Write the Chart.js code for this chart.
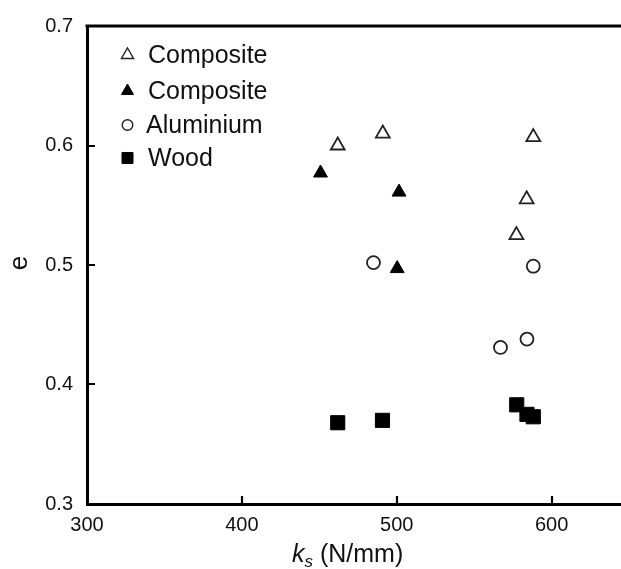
<!DOCTYPE html>
<html>
<head>
<meta charset="utf-8">
<script src="https://cdn.jsdelivr.net/npm/chart.js@4/dist/chart.umd.min.js"></script>
<style>
  html, body { margin: 0; padding: 0; background: #fff; overflow: hidden; width: 621px; height: 569px; }
  canvas { display: block; }
</style>
</head>
<body>
<canvas id="c" width="640" height="569"></canvas>
<script>
// ---- data ----
const seriesLabels = ['Composite', 'Composite', 'Aluminium', 'Wood'];
const compositeOpenX = [461.9, 491.0, 588.2, 583.9, 577.3];
const compositeOpenY = [0.600, 0.610, 0.607, 0.555, 0.525];
const compositeFilledX = [450.8, 501.5, 500.3];
const compositeFilledY = [0.577, 0.561, 0.497];
const aluminiumX = [485.0, 588.2, 567.0, 584.1];
const aluminiumY = [0.502, 0.499, 0.431, 0.438];
const woodX = [461.9, 490.8, 577.5, 584.1, 588.2];
const woodY = [0.368, 0.370, 0.383, 0.375, 0.373];
const xTickValues = [300, 400, 500, 600];
const yTickValues = [0.3, 0.4, 0.5, 0.6, 0.7];
const xTitleMain = 'k';
const xTitleSub = 's';
const xTitleRest = ' (N/mm)';
const yTitle = 'e';

const FONT = '"Liberation Sans", Arial, Helvetica, sans-serif';
const INK = '#111';

function pts(xs, ys) { return xs.map((x, i) => ({ x: x, y: ys[i] })); }

const styles = [
  { pointStyle: 'triangle', pointRadius: 8, backgroundColor: '#fff', borderColor: '#222', borderWidth: 1.8 },
  { pointStyle: 'triangle', pointRadius: 8, backgroundColor: '#000', borderColor: '#000', borderWidth: 1 },
  { pointStyle: 'circle', pointRadius: 6.5, backgroundColor: '#fff', borderColor: '#222', borderWidth: 1.8 },
  { pointStyle: 'rect', pointRadius: 10, backgroundColor: '#000', borderColor: '#000', borderWidth: 1 }
];
const seriesData = [
  pts(compositeOpenX, compositeOpenY),
  pts(compositeFilledX, compositeFilledY),
  pts(aluminiumX, aluminiumY),
  pts(woodX, woodY)
];

const datasets = seriesData.map((d, i) => Object.assign({
  label: seriesLabels[i],
  data: d,
  showLine: false,
  pointHoverRadius: styles[i].pointRadius,
  pointBorderWidth: styles[i].borderWidth
}, styles[i]));

const decorPlugin = {
  id: 'decor',
  afterDraw(chart) {
    const ctx = chart.ctx;
    const a = chart.chartArea;
    const xs = chart.scales.x, ys = chart.scales.y;
    ctx.save();
    // top frame line
    ctx.strokeStyle = '#000';
    ctx.lineWidth = 3;
    ctx.beginPath();
    ctx.moveTo(a.left - 1.5, a.top);
    ctx.lineTo(a.right, a.top);
    ctx.stroke();
    // inner ticks
    ctx.lineWidth = 2.2;
    ctx.beginPath();
    xTickValues.forEach(v => {
      const px = Math.round(xs.getPixelForValue(v));
      if (px <= a.left + 2) return;
      ctx.moveTo(px, a.bottom);
      ctx.lineTo(px, a.bottom - 8);
    });
    yTickValues.forEach(v => {
      const py = Math.round(ys.getPixelForValue(v));
      if (py <= a.top + 2 || py >= a.bottom - 2) return;
      ctx.moveTo(a.left, py);
      ctx.lineTo(a.left + 8, py);
    });
    ctx.stroke();

    // legend
    const legX = 127.5, textX = 148, rows = [55, 91, 125, 158];
    const legStyles = [
      { pointStyle: 'triangle', radius: 7, fill: '#fff', stroke: '#222', bw: 1.4 },
      { pointStyle: 'triangle', radius: 7, fill: '#000', stroke: '#000', bw: 1 },
      { pointStyle: 'circle', radius: 5.3, fill: '#fff', stroke: '#222', bw: 1.4 },
      { pointStyle: 'rect', radius: 7.8, fill: '#000', stroke: '#000', bw: 1 }
    ];
    ctx.font = '25px ' + FONT;
    ctx.textBaseline = 'middle';
    ctx.textAlign = 'left';
    chart.data.datasets.forEach((ds, i) => {
      const s = legStyles[i];
      ctx.fillStyle = s.fill;
      ctx.strokeStyle = s.stroke;
      ctx.lineWidth = s.bw;
      Chart.helpers.drawPoint(ctx, { pointStyle: s.pointStyle, radius: s.radius, borderWidth: s.bw, rotation: 0 }, legX, rows[i]);
      ctx.fillStyle = INK;
      ctx.fillText(ds.label, (i === 2 ? textX - 2 : textX), rows[i] + 1);
    });

    // x title
    const baseY = 562;
    ctx.textBaseline = 'alphabetic';
    ctx.fillStyle = INK;
    let x0 = 292;
    ctx.font = 'italic 25px ' + FONT;
    ctx.fillText(xTitleMain, x0, baseY);
    x0 += ctx.measureText(xTitleMain).width;
    ctx.font = 'italic 17px ' + FONT;
    ctx.fillText(xTitleSub, x0, baseY + 5);
    x0 += ctx.measureText(xTitleSub).width;
    ctx.font = '25px ' + FONT;
    ctx.fillText(xTitleRest, x0, baseY);

    // y title (rotated)
    ctx.translate(20, 263);
    ctx.rotate(-Math.PI / 2);
    ctx.textAlign = 'center';
    ctx.textBaseline = 'middle';
    ctx.font = '26px ' + FONT;
    ctx.fillText(yTitle, 0, 0);
    ctx.restore();
  }
};

new Chart(document.getElementById('c'), {
  type: 'scatter',
  data: { datasets: datasets },
  options: {
    responsive: false,
    animation: false,
    events: [],
    layout: { padding: { left: 0, top: 21, right: 8, bottom: 0 } },
    plugins: { legend: { display: false }, tooltip: { enabled: false } },
    scales: {
      x: {
        type: 'linear', position: 'bottom', min: 300, max: 650,
        afterBuildTicks: s => { s.ticks = xTickValues.map(v => ({ value: v })); },
        afterFit: s => { s.height = 65; },
        grid: { display: false, drawTicks: false },
        border: { display: true, color: '#000', width: 3 },
        ticks: { padding: 9, color: INK, font: { family: FONT, size: 20 }, callback: v => String(v) }
      },
      y: {
        type: 'linear', position: 'left', min: 0.3, max: 0.7,
        afterBuildTicks: s => { s.ticks = yTickValues.map(v => ({ value: v })); },
        afterFit: s => { s.width = 87; },
        grid: { display: false, drawTicks: false },
        border: { display: true, color: '#000', width: 3 },
        ticks: { padding: 14, color: INK, font: { family: FONT, size: 20 }, callback: v => Number(v).toFixed(1) }
      }
    }
  },
  plugins: [decorPlugin]
});
</script>
</body>
</html>
